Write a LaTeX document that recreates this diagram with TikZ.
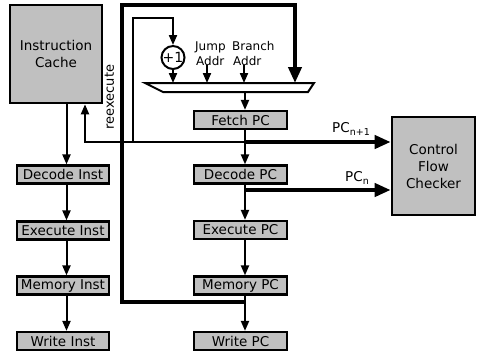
\documentclass[tikz,border=0pt]{standalone}
\usepackage{fontspec}
\setmainfont{DejaVu Sans}
\usetikzlibrary{arrows.meta}
\definecolor{boxgray}{RGB}{192,192,192}
\tikzset{
  bx/.style={draw, fill=boxgray, line width=2.2pt, inner sep=0pt, font=\fontsize{13.5}{17}\selectfont},
  instbox/.style={bx, minimum width=92pt, minimum height=18pt},
  pcbox/.style={bx, minimum width=93pt, minimum height=18pt},
  bigbox/.style={bx, line width=2.6pt, align=center},
  thinline/.style={line width=2pt},
  thinarrow/.style={line width=2pt, -{Triangle[length=10pt,width=8pt]}},
  thickline/.style={line width=4.2pt},
  thickarrow/.style={line width=4.2pt, line join=miter, -{Triangle[length=16pt,width=13pt]}},
  smalltext/.style={font=\fontsize{12}{13}\selectfont, inner sep=0pt},
  lbl/.style={font=\fontsize{13.5}{16}\selectfont, inner sep=0pt},
}
\begin{document}
\begin{tikzpicture}[x=1pt,y=-1pt]
\useasboundingbox (0,0) rectangle (477,354);
% main boxes
\node[bigbox, minimum width=92pt, minimum height=98pt] (ic) at (56,54) {Instruction\\Cache};
\node[bigbox, minimum width=83pt, minimum height=98pt] (cfc) at (433.5,166) {Control\\Flow\\Checker};
% inst column
\node[instbox] (di) at (63,174.5) {Decode Inst};
\node[instbox] (ei) at (63,230.5) {Execute Inst};
\node[instbox] (mi) at (63,285.5) {Memory Inst};
\node[instbox] (wi) at (63,341) {Write Inst};
% pc column
\node[pcbox] (fpc) at (240.5,120) {Fetch PC};
\node[pcbox] (dpc) at (240.5,174.5) {Decode PC};
\node[pcbox] (epc) at (240.5,230) {Execute PC};
\node[pcbox] (mpc) at (240.5,285.5) {Memory PC};
\node[pcbox] (wpc) at (240.5,341) {Write PC};
% +1
\node[draw, circle, line width=2pt, minimum size=20pt, inner sep=0pt, font=\fontsize{14}{14}\selectfont] (pone) at (173,57.5) {+1};
% Jump / Branch labels
\node[smalltext, anchor=base west] (jmp) at (195,50) {Jump};
\node[smalltext, anchor=base west] (ja) at (196,65) {Addr};
\node[smalltext, anchor=base west] (brn) at (232,50) {Branch};
\node[smalltext, anchor=base west] (ba) at (233,65) {Addr};
% mux
\coordinate (muxtop) at (0,83);
\coordinate (muxbot) at (0,92);
\draw[line width=2pt, line join=miter] (145,83) -- (314,83) -- (308,92) -- (163,92) -- cycle;
% labels
\node[lbl, anchor=base west] (lpc1) at (332,132) {PC\raisebox{-3.5pt}{\fontsize{9.5}{10}\selectfont n+1}};
\node[lbl, anchor=base west] (lpc0) at (345,181) {PC\raisebox{-3.5pt}{\fontsize{9.5}{10}\selectfont n}};
\node[font=\fontsize{13}{13}\selectfont, rotate=90, inner sep=0pt] (rx) at (109.5,97) {reexecute};
% coordinates
\coordinate (tap1) at (245,142);
\coordinate (tap2) at (245,190);
\coordinate (tap3) at (245,302);
\coordinate (rxc) at (85,142);
\coordinate (up1) at (133,142);
\coordinate (up1t) at (133,18);
\coordinate (topL) at (122,302);
\coordinate (topLt) at (122,5);
\coordinate (topR) at (295,5);
% thin connectors
\draw[thinarrow] (ic.south -| 66.5,0) -- (di.north -| 66.5,0);
\draw[thinarrow] (di.south -| 66.5,0) -- (ei.north -| 66.5,0);
\draw[thinarrow] (ei.south -| 66.5,0) -- (mi.north -| 66.5,0);
\draw[thinarrow] (mi.south -| 66.5,0) -- (wi.north -| 66.5,0);
\draw[thinarrow] (muxbot -| tap1) -- (fpc.north -| tap1);
\draw[thinarrow] (fpc.south -| tap1) -- (dpc.north -| tap1);
\draw[thinarrow] (dpc.south -| tap1) -- (epc.north -| tap1);
\draw[thinarrow] (epc.south -| tap1) -- (mpc.north -| tap1);
\draw[thinarrow] (mpc.south -| tap1) -- (wpc.north -| tap1);
\draw[thinarrow] (tap1) -- (rxc) -- (ic.south -| rxc);
\draw[thinarrow, line join=miter] (up1) -- (up1t) -| (pone.north);
\draw[thinarrow] (pone.south) -- (muxtop -| pone);
\draw[thinarrow] (ja.south -| 207,0) -- (muxtop -| 207,0);
\draw[thinarrow] (ba.south -| 244,0) -- (muxtop -| 244,0);
% thick connectors
\draw[thickarrow] (tap3) -- (topL) -- (topLt) -- (topR) -- (muxtop -| topR);
\draw[thickarrow] (tap1) -- (cfc.west |- tap1);
\draw[thickarrow] (tap2) -- (cfc.west |- tap2);
\end{tikzpicture}
\end{document}
